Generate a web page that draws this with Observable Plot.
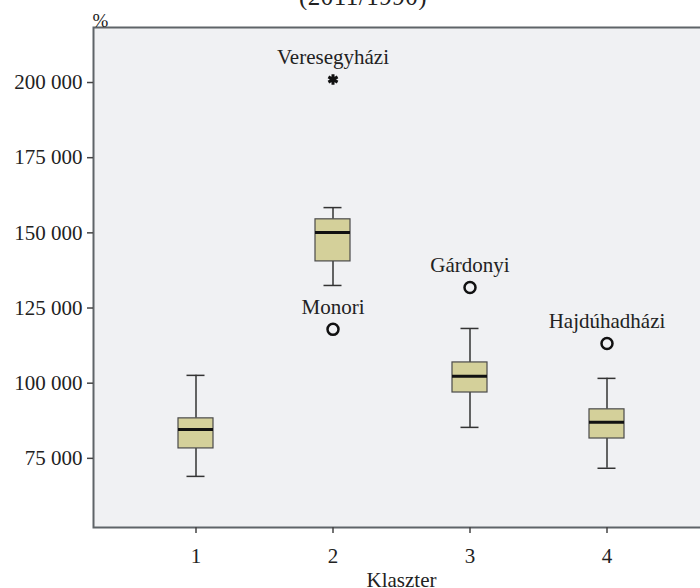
<!DOCTYPE html>
<html>
<head>
<meta charset="utf-8">
<script src="https://cdn.jsdelivr.net/npm/d3@7"></script>
<script src="https://cdn.jsdelivr.net/npm/@observablehq/plot@0.6"></script>
<style>
  html, body { margin: 0; padding: 0; background: white; overflow: hidden; }
  #title { height: 10px; overflow: hidden; position: relative; width: 700px; }
  #title div { position: absolute; left: 0; top: -16px; width: 726px; text-align: center;
    font: 25px "Liberation Serif", serif; line-height: 25px; color: #222; letter-spacing: 0.5px; }
</style>
</head>
<body>
<div id="title"><div>(2011/1990)</div></div>
<div id="chart"></div>
<script>
const clusters = ["1", "2", "3", "4"];
const whiskerLow  = [69000, 132500, 85300, 71700];
const q1          = [78300, 140500, 96900, 81600];
const median      = [84600, 150100, 102300, 87000];
const q3          = [88300, 154500, 106900, 91300];
const whiskerHigh = [102600, 158400, 118200, 101600];

const outlierCluster = ["2", "2", "3", "4"];
const outlierValue   = [201000, 117900, 131800, 113200];
const outlierName    = ["Veresegyházi", "Monori", "Gárdonyi", "Hajdúhadházi"];
const outlierExtreme = [true, false, false, false];

const yTicks = [75000, 100000, 125000, 150000, 175000, 200000];

const stats = clusters.map((c, i) => ({
  cluster: c, lo: whiskerLow[i], q1: q1[i], med: median[i], q3: q3[i], hi: whiskerHigh[i]
}));
const outliers = outlierName.map((n, i) => ({
  cluster: outlierCluster[i], value: outlierValue[i], name: n, extreme: outlierExtreme[i]
}));

const fmt = d => d3.format(",")(d).replace(/,/g, " ");
const font = '"Liberation Serif", serif';
const fs = 21;

const chart = Plot.plot({
  width: 700,
  height: 578,
  marginLeft: 93,
  marginRight: -9,
  marginTop: 17,
  marginBottom: 61,
  style: { fontFamily: font, fontSize: fs + "px", color: "#222", background: "white" },
  x: { type: "band", domain: clusters, paddingInner: 0.746, paddingOuter: 0.605, align: 0.5 },
  y: { domain: [52000, 218300] },
  marks: [
    Plot.frame({ fill: "#f0f1f3", stroke: "#5f6468", strokeWidth: 2 }),
    Plot.axisY({ ticks: yTicks, tickFormat: fmt, tickSize: 6, tickPadding: 5, label: null, stroke: "#444", strokeWidth: 1.5, fontSize: fs }),
    Plot.axisX({ tickSize: 6, tickPadding: 15, label: null, stroke: "#444", strokeWidth: 1.5, fontSize: fs }),
    Plot.ruleX(stats, { x: "cluster", y1: "lo", y2: "q1", stroke: "#333", strokeWidth: 1.5 }),
    Plot.ruleX(stats, { x: "cluster", y1: "q3", y2: "hi", stroke: "#333", strokeWidth: 1.5 }),
    Plot.tickY(stats, { x: "cluster", y: "lo", stroke: "#333", strokeWidth: 1.5, insetLeft: 8.5, insetRight: 8.5 }),
    Plot.tickY(stats, { x: "cluster", y: "hi", stroke: "#333", strokeWidth: 1.5, insetLeft: 8.5, insetRight: 8.5 }),
    Plot.rectY(stats, { x: "cluster", y1: "q1", y2: "q3", fill: "#d4d09a", stroke: "#4a4a4a", strokeWidth: 1.2 }),
    Plot.tickY(stats, { x: "cluster", y: "med", stroke: "#111", strokeWidth: 3 }),
    Plot.dot(outliers.filter(d => !d.extreme), { x: "cluster", y: "value", r: 5.5, stroke: "#111", strokeWidth: 2.5, fill: "none" }),
    Plot.dot(outliers.filter(d => d.extreme), { x: "cluster", y: "value", r: 5, symbol: "asterisk", stroke: "#111", strokeWidth: 3 }),
    Plot.text(outliers, { x: "cluster", y: "value", text: "name", dy: -22, fontSize: fs, fill: "#222" }),
    Plot.text(["%"], { frameAnchor: "top-left", dx: -1, dy: -1, lineAnchor: "bottom", textAnchor: "start", fontSize: 19, fill: "#222" }),
    Plot.text(["Klaszter"], { frameAnchor: "bottom", dy: 59, lineAnchor: "bottom", fontSize: fs, fill: "#222" })
  ]
});
document.getElementById("chart").appendChild(chart);
</script>
</body>
</html>
